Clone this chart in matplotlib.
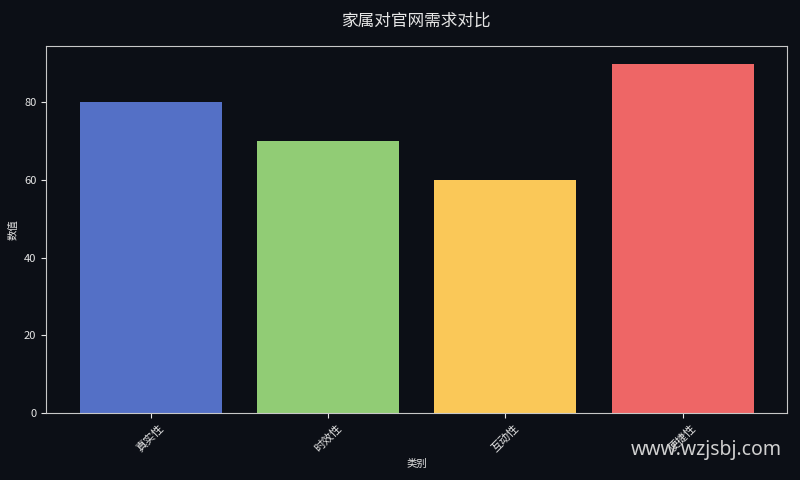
import matplotlib.pyplot as plt

plt.rcParams['font.family'] = ['Noto Sans CJK SC', 'DejaVu Sans']

categories = ["真实性", "时效性", "互动性", "便捷性"]
values = [80, 70, 60, 90]
colors = ["#5470c6", "#91cc75", "#fac858", "#ee6666"]

bg = "#0c0f16"
fg = "#e6e6e6"

fig, ax = plt.subplots(figsize=(8, 4.8), dpi=100)
fig.patch.set_facecolor(bg)
ax.set_facecolor(bg)

ax.bar(categories, values, color=colors, width=0.8)

ax.set_title("家属对官网需求对比", color=fg, fontsize=12, pad=15)
ax.set_xlabel("类别", color=fg, fontsize=7.5)
ax.set_ylabel("数值", color=fg, fontsize=7.5)
ax.tick_params(colors=fg, labelsize=8)
ax.tick_params(axis='x', labelrotation=45)
for spine in ax.spines.values():
    spine.set_color("#c8c8c8")

fig.subplots_adjust(left=0.0575, right=0.984, top=0.904, bottom=0.14)
fig.text(0.977, 0.063, "www.wzjsbj.com", color="#d0d0d0", fontsize=14,
         ha="right", va="center", family=["Noto Sans"])

fig.savefig("out.png", facecolor=bg)
